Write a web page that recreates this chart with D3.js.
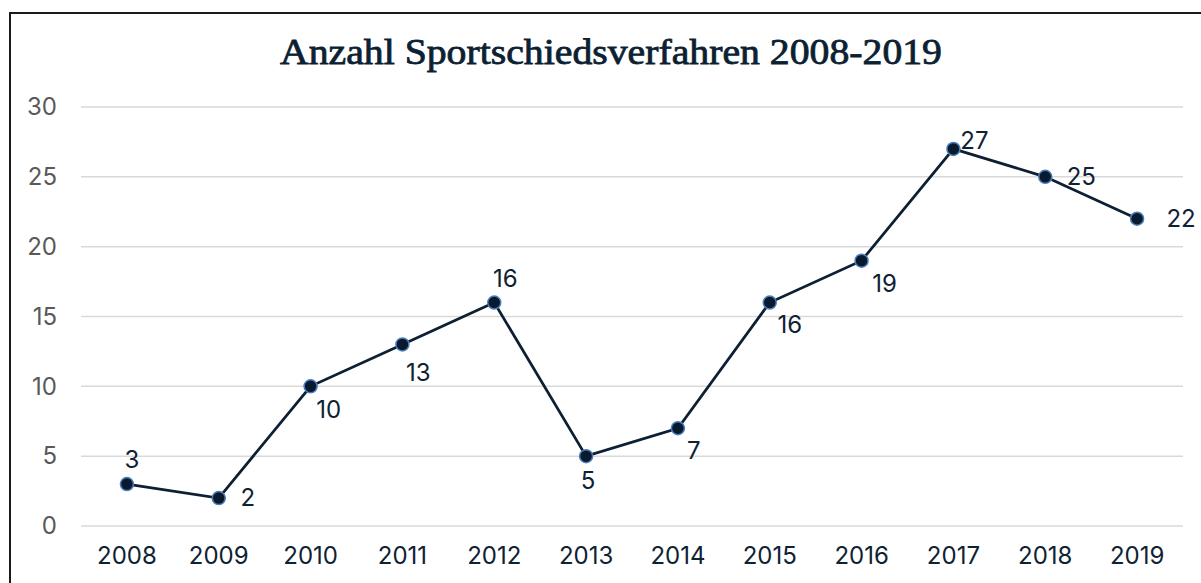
<!DOCTYPE html>
<html>
<head>
<meta charset="utf-8">
<script src="https://cdn.jsdelivr.net/npm/d3@7"></script>
<style>
  body { margin: 0; background: #fff; }
  svg { display: block; }
</style>
</head>
<body>
<svg id="chart" width="1201" height="583"></svg>
<script>
// data
const years = ['2008', '2009', '2010', '2011', '2012', '2013', '2014', '2015', '2016', '2017', '2018', '2019'];
const counts = [3, 2, 10, 13, 16, 5, 7, 16, 19, 27, 25, 22];
const yTicks = [0, 5, 10, 15, 20, 25, 30];
const title = 'Anzahl Sportschiedsverfahren 2008-2019';

let svg = d3.select('#chart');

// frame around the chart (runs off the right and bottom edge)
svg.append('rect')
  .attr('x', 10).attr('y', 13)
  .attr('width', 1200).attr('height', 600)
  .attr('fill', 'none')
  .attr('stroke', '#1a1a1a')
  .attr('stroke-width', 2);

// semi-bold look: regular weight plus a thin outline
svg.append('text')
  .attr('x', 611).attr('y', 64)
  .attr('text-anchor', 'middle')
  .style('font-family', '"Liberation Serif", "Times New Roman", serif')
  .style('font-size', '35px')
  .style('fill', '#0d1f33')
  .style('stroke', '#0d1f33')
  .style('stroke-width', 0.8)
  .attr('textLength', 662)
  .attr('lengthAdjust', 'spacingAndGlyphs')
  .text(title);

let x = d3.scaleBand().domain(years).range([81, 1183]);
let y = d3.scaleLinear().domain([0, 30]).range([526, 107]);

// gridlines
svg.append('g').selectAll('line')
  .data(yTicks)
  .enter().append('line')
  .attr('x1', 81).attr('x2', 1183)
  .attr('y1', d => y(d)).attr('y2', d => y(d))
  .attr('stroke', '#d9d9d9')
  .attr('stroke-width', 1.5);

let font = 'Inter, "Liberation Sans", Arial, sans-serif';

// y axis labels
let yAxis = svg.append('g')
  .attr('transform', 'translate(57,0)')
  .call(d3.axisLeft(y).tickValues(yTicks).tickSize(0).tickPadding(0));
yAxis.select('.domain').remove();
yAxis.selectAll('text')
  .style('font-family', font)
  .style('font-size', '24px')
  .style('fill', '#595959');

// x axis labels
let xAxis = svg.append('g')
  .attr('transform', 'translate(0,546)')
  .call(d3.axisBottom(x).tickSize(0).tickPadding(0));
xAxis.select('.domain').remove();
xAxis.selectAll('text')
  .attr('dy', '0.75em')
  .style('font-family', font)
  .style('font-size', '24px')
  .style('fill', '#0e2233');

let pts = years.map((yr, i) => ({ year: yr, value: counts[i] }));
let cx = d => x(d.year) + x.bandwidth() / 2;

svg.append('path')
  .datum(pts)
  .attr('fill', 'none')
  .attr('stroke', '#0d1f33')
  .attr('stroke-width', 2.75)
  .attr('d', d3.line().x(cx).y(d => y(d.value)));

svg.append('g').selectAll('circle')
  .data(pts)
  .enter().append('circle')
  .attr('cx', cx)
  .attr('cy', d => y(d.value))
  .attr('r', 6.5)
  .attr('fill', '#0a1a2e')
  .attr('stroke', '#4a7ebb')
  .attr('stroke-width', 1.5);

// label placement, same order as years
let labelShift = [[5, -25], [29, 0], [18, 23], [16, 28], [11, -24], [2, 24], [16, 22], [20, 22], [23, 23], [21, -8], [36, 0], [44, 0]];

svg.append('g').selectAll('text')
  .data(pts)
  .enter().append('text')
  .attr('x', (d, i) => cx(d) + labelShift[i][0])
  .attr('y', (d, i) => y(d.value) + labelShift[i][1])
  .attr('dy', '0.35em')
  .attr('text-anchor', 'middle')
  .style('font-family', font)
  .style('font-size', '24px')
  .style('fill', '#0e2233')
  .text(d => d.value);
</script>
</body>
</html>
